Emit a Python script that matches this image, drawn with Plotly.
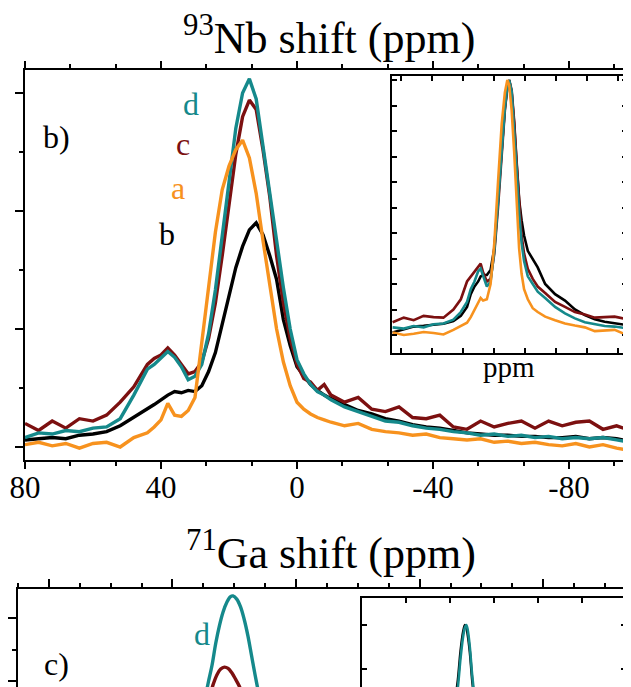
import plotly.graph_objects as go

# page pixels of the reference; the browser's default body margin (8 px) is compensated
PAGE_W, PAGE_H = 631, 687
OFF = 8
W, H = PAGE_W - OFF, PAGE_H - OFF
SERIF = "Liberation Serif, Times New Roman, serif"

TEAL = "#15898b"
MAROON = "#7c1010"
ORANGE = "#f7921e"
BLACK = "#000000"

# ---------------- panel b (93Nb) main ----------------
nb_ppm = [80, 76, 72, 68, 64, 60, 56, 52, 48, 44,
          42, 40, 38, 36, 34, 32, 30, 28, 26, 24, 22, 20, 18, 16, 14, 12, 10, 8, 6, 4, 2, 0,
          -2, -4, -6, -8, -10,
          -14, -18, -22, -26, -30, -34, -38, -42, -46, -50, -54, -58, -62, -66, -70, -74,
          -78, -82, -86, -90, -94, -98]

nb_d = [0.08, 0.12, 0.11, 0.14, 0.13, 0.16, 0.17, 0.24, 0.44, 0.66,
        0.70, 0.76, 0.81, 0.76, 0.68, 0.57, 0.60, 0.70, 0.96, 1.33, 1.80, 2.28, 2.70, 3.00, 3.12,
        2.95, 2.55, 2.12, 1.73, 1.35, 1.00, 0.74, 0.62, 0.53, 0.47, 0.44, 0.40,
        0.34, 0.30, 0.26, 0.22, 0.21, 0.18, 0.16, 0.15, 0.13, 0.12, 0.10, 0.11, 0.09, 0.10,
        0.08, 0.09, 0.07, 0.08, 0.07, 0.08, 0.06, 0.04]

nb_c = [0.20, 0.14, 0.22, 0.16, 0.24, 0.22, 0.27, 0.38, 0.51, 0.70,
        0.75, 0.78, 0.84, 0.78, 0.70, 0.62, 0.64, 0.72, 0.92, 1.22, 1.62, 2.05, 2.48, 2.80, 2.94,
        2.86, 2.52, 2.12, 1.62, 1.22, 0.92, 0.70, 0.58, 0.55, 0.48, 0.53, 0.44,
        0.38, 0.42, 0.32, 0.30, 0.34, 0.25, 0.24, 0.27, 0.17, 0.15, 0.22, 0.17, 0.20, 0.22,
        0.16, 0.22, 0.18, 0.21, 0.22, 0.15, 0.18, 0.14]

nb_a = [0.02, 0.04, 0.01, 0.03, -0.01, 0.03, 0.04, 0.00, 0.08, 0.12,
        0.17, 0.23, 0.37, 0.27, 0.26, 0.31, 0.42, 0.90, 1.40, 1.82, 2.18, 2.38, 2.52, 2.60, 2.45,
        2.15, 1.75, 1.35, 1.00, 0.72, 0.52, 0.38, 0.32, 0.28, 0.25, 0.23, 0.21,
        0.18, 0.20, 0.15, 0.13, 0.12, 0.10, 0.11, 0.08, 0.07, 0.06, 0.07, 0.04, 0.05, 0.03,
        0.04, 0.02, 0.01, 0.03, 0.00, 0.02, -0.01, -0.03]

nb_b = [0.06, 0.07, 0.08, 0.07, 0.10, 0.11, 0.13, 0.18, 0.25, 0.32,
        0.36, 0.40, 0.44, 0.47, 0.46, 0.48, 0.47, 0.52, 0.64, 0.80, 1.05, 1.30, 1.52, 1.70, 1.84,
        1.90, 1.80, 1.62, 1.42, 1.08, 0.86, 0.68, 0.60, 0.53, 0.48, 0.44, 0.41,
        0.36, 0.31, 0.28, 0.24, 0.22, 0.19, 0.17, 0.16, 0.14, 0.12, 0.11, 0.10, 0.10, 0.09,
        0.09, 0.08, 0.08, 0.09, 0.07, 0.08, 0.07, 0.05]

nb_tickvals = [80, 40, 0, -40, -80]
nb_ticktext = ["80", "40", "0", "-40", "-80"]

# ---------------- panel b inset (normalised) ----------------
ins_ppm = [107, 98, 90, 82, 74, 66, 58, 52, 47, 44, 41, 38, 36, 34, 31, 28, 25, 22, 19,
           16.5, 14.5, 13, 11, 9, 7, 5, 3, 1, -2, -6, -10, -16, -24, -32, -40, -48, -56,
           -64, -72, -82]
ins_d = [0.03, 0.025, 0.035, 0.03, 0.042, 0.045, 0.06, 0.09, 0.13, 0.18, 0.21, 0.25, 0.26,
         0.235, 0.19, 0.21, 0.33, 0.52, 0.73, 0.89, 0.975, 1.0, 0.955, 0.82, 0.65, 0.48,
         0.36, 0.29, 0.23, 0.20, 0.17, 0.145, 0.11, 0.085, 0.065, 0.05, 0.042, 0.035, 0.033,
         0.026]
ins_c = [0.05, 0.068, 0.058, 0.075, 0.07, 0.068, 0.10, 0.14, 0.21, 0.23, 0.25, 0.27, 0.28,
         0.245, 0.21, 0.22, 0.32, 0.50, 0.71, 0.88, 0.97, 1.0, 0.96, 0.84, 0.68, 0.52, 0.39,
         0.32, 0.26, 0.22, 0.19, 0.165, 0.13, 0.11, 0.09, 0.08, 0.068, 0.07, 0.072, 0.062]
ins_b = [0.01, 0.022, 0.033, 0.036, 0.04, 0.044, 0.055, 0.075, 0.11, 0.16, 0.19, 0.21, 0.23,
         0.235, 0.235, 0.255, 0.34, 0.53, 0.74, 0.89, 0.97, 1.0, 0.95, 0.83, 0.67, 0.53, 0.45,
         0.39, 0.33, 0.30, 0.265, 0.20, 0.16, 0.135, 0.10, 0.078, 0.062, 0.052, 0.046, 0.039]
ins_a = [0.01, 0.0, 0.005, 0.012, 0.008, 0.002, 0.02, 0.035, 0.048, 0.07, 0.10, 0.125, 0.145,
         0.135, 0.14, 0.20, 0.36, 0.60, 0.83, 0.95, 1.0, 0.98, 0.88, 0.72, 0.52, 0.34, 0.24,
         0.18, 0.14, 0.105, 0.09, 0.072, 0.058, 0.045, 0.037, 0.03, 0.015, 0.018, 0.02, 0.0]

# ---------------- panel c (71Ga) main, only top visible ----------------
ga_ppm_d = [190, 180, 175, 171, 168, 165, 162, 159, 156, 153, 151, 148, 145, 142, 139, 136,
            133, 130, 125, 115]
ga_d = [1.2, 2.1, 2.6, 2.98, 3.25, 3.6, 3.88, 4.1, 4.25, 4.34, 4.35, 4.3, 4.18, 3.98, 3.72,
        3.40, 3.08, 2.78, 2.3, 1.5]
ga_ppm_c = [185, 175, 170, 167, 164, 161, 158, 155, 152, 149, 146, 142, 135, 120]
ga_c = [1.5, 2.45, 2.75, 2.95, 3.1, 3.19, 3.22, 3.2, 3.13, 3.03, 2.92, 2.72, 2.3, 1.5]

# ---------------- panel c inset ----------------
gins_ppm = [260, 220, 200, 190, 182, 176, 170, 166, 163, 160, 155, 150, 146, 140, 130, 110, 80]
gins_d = [0.15, 0.3, 0.45, 0.6, 0.72, 0.85, 0.95, 0.99, 1.0, 0.98, 0.9, 0.78, 0.70, 0.55,
          0.38, 0.2, 0.1]
gins_b = [0.16, 0.32, 0.48, 0.63, 0.75, 0.88, 0.97, 1.0, 0.99, 0.96, 0.88, 0.76, 0.68, 0.54,
          0.37, 0.2, 0.1]


def px(x):
    return (x - OFF) / W


def py(y):
    return 1 - (y - OFF) / H


fig = go.Figure()
LW = 3.4

for ys, col in [(nb_b, BLACK), (nb_c, MAROON), (nb_d, TEAL), (nb_a, ORANGE)]:
    fig.add_trace(go.Scatter(x=nb_ppm, y=ys, mode="lines", line=dict(color=col, width=LW),
                             xaxis="x", yaxis="y", showlegend=False))
for ys, col in [(ins_b, BLACK), (ins_c, MAROON), (ins_d, TEAL), (ins_a, ORANGE)]:
    fig.add_trace(go.Scatter(x=ins_ppm, y=ys, mode="lines", line=dict(color=col, width=2.6),
                             xaxis="x3", yaxis="y3", showlegend=False))
fig.add_trace(go.Scatter(x=ga_ppm_c, y=ga_c, mode="lines", line=dict(color=MAROON, width=LW),
                         xaxis="x2", yaxis="y2", showlegend=False, line_shape="spline"))
fig.add_trace(go.Scatter(x=ga_ppm_d, y=ga_d, mode="lines", line=dict(color=TEAL, width=LW),
                         xaxis="x2", yaxis="y2", showlegend=False, line_shape="spline"))
fig.add_trace(go.Scatter(x=gins_ppm, y=gins_b, mode="lines", line=dict(color=BLACK, width=2.6),
                         xaxis="x4", yaxis="y4", showlegend=False, line_shape="spline"))
fig.add_trace(go.Scatter(x=gins_ppm, y=gins_d, mode="lines", line=dict(color=TEAL, width=2.6),
                         xaxis="x4", yaxis="y4", showlegend=False, line_shape="spline"))

common = dict(showgrid=False, zeroline=False, linecolor="black", linewidth=1.5,
              tickcolor="black", tickwidth=1.5, showline=True, automargin=False)

fig.update_layout(
    width=W, height=H,
    margin=dict(l=0, r=0, t=0, b=0, autoexpand=False),
    paper_bgcolor="white", plot_bgcolor="rgba(0,0,0,0)",
    showlegend=False,
    xaxis=dict(domain=[px(25), 1], range=[80, -98.24], anchor="y",
               tickmode="array", tickvals=nb_tickvals, ticktext=nb_ticktext,
               ticks="outside", ticklen=7, mirror="ticks", ticklabelstandoff=-8,
               minor=dict(tick0=80, dtick=40 / 3, ticks="outside", ticklen=4,
                          tickwidth=1.5, tickcolor="black"),
               tickfont=dict(family=SERIF, size=31, color="black"), **common),
    yaxis=dict(domain=[py(460), py(70)], range=[-0.110, 3.195], anchor="x",
               tick0=0, dtick=1, ticks="outside", ticklen=8, showticklabels=False,
               minor=dict(dtick=0.5, ticks="outside", ticklen=4, tickwidth=1.5,
                          tickcolor="black"),
               **common),
    xaxis2=dict(domain=[px(18), 1], range=[325, -171], anchor="y2", side="top",
                tick0=0, dtick=100, ticks="outside", ticklen=8, showticklabels=False,
                minor=dict(dtick=25, ticks="outside", ticklen=4, tickwidth=1.5,
                           tickcolor="black"),
                **common),
    yaxis2=dict(domain=[0, py(589)], range=[2.905, 4.46], anchor="x2",
                tick0=0, dtick=1, ticks="outside", ticklen=8, showticklabels=False,
                minor=dict(dtick=0.5, ticks="outside", ticklen=4, tickwidth=1.5,
                           tickcolor="black"),
                **common),
    xaxis3=dict(domain=[px(392), px(627)], range=[107.5, -82], anchor="y3",
                tick0=0, dtick=25, ticks="inside", ticklen=5, showticklabels=False,
                mirror="ticks", **common),
    yaxis3=dict(domain=[py(353), py(76)], range=[-0.0706, 1.0157], anchor="x3",
                tick0=0, dtick=0.1, ticks="inside", ticklen=5, showticklabels=False,
                mirror="ticks", **common),
    xaxis4=dict(domain=[px(362), px(626)], range=[400, -200], anchor="y4", side="top",
                tick0=0, dtick=100, ticks="inside", ticklen=5, showticklabels=False,
                **common),
    yaxis4=dict(domain=[0, py(598)], range=[0.718, 1.1227], anchor="x4",
                tick0=0, dtick=0.2, ticks="inside", ticklen=5, showticklabels=False,
                mirror="ticks", **common),
)


def ann(text, x, y, size, color="black"):
    fig.add_annotation(text=text, x=px(x), y=py(y), xref="paper", yref="paper",
                       xanchor="center", yanchor="middle", showarrow=False,
                       font=dict(family=SERIF, size=size, color=color))


ann("<sup>93</sup>Nb shift (ppm)", 329, 36, 44)
ann("<sup>71</sup>Ga shift (ppm)", 331, 550, 44)
ann("ppm", 509, 367, 29)
ann("b)", 56, 137, 32)
ann("d", 191, 104, 32, TEAL)
ann("c", 183, 144, 32, MAROON)
ann("a", 178, 188, 32, ORANGE)
ann("b", 167, 234, 32, BLACK)
ann("d", 202, 634, 32, TEAL)
ann("c)", 56, 664, 32)

fig.write_html("out.html")
